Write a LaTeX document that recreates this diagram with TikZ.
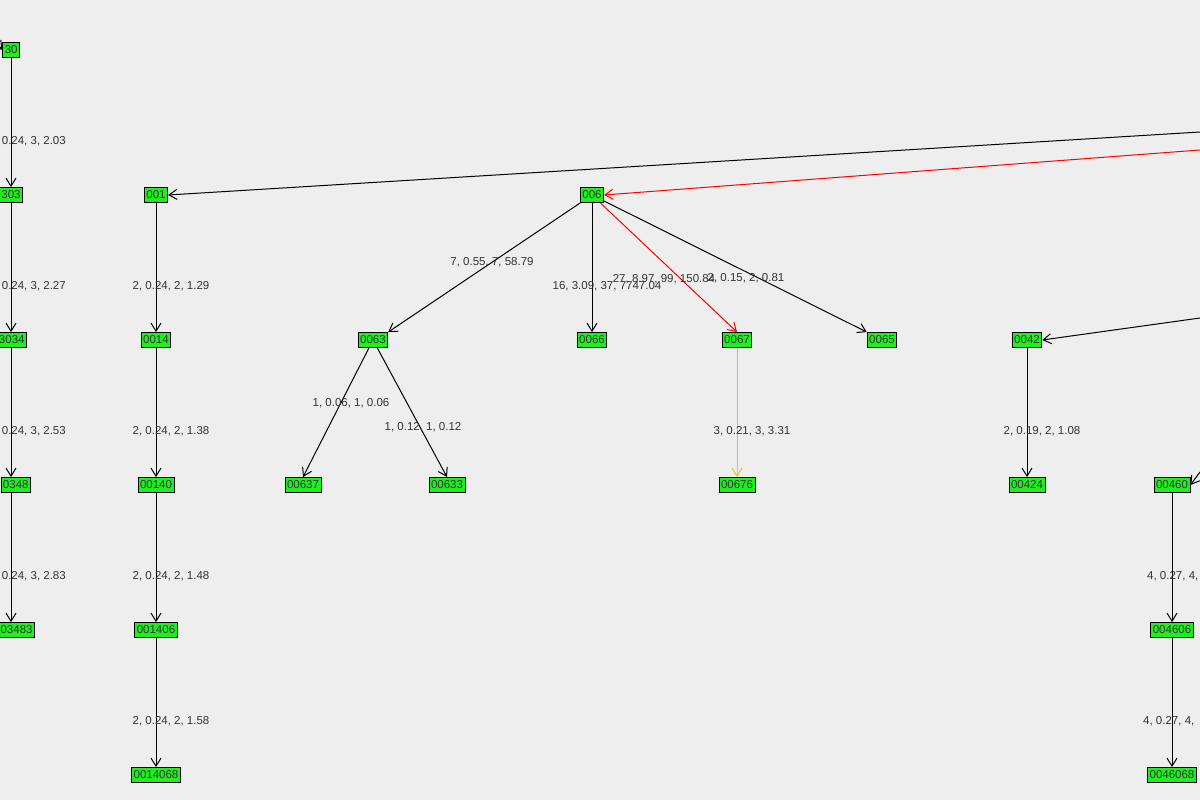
\documentclass[tikz,border=0pt]{standalone}
\usepackage{fontspec}
\setmainfont{Liberation Sans}
\usetikzlibrary{arrows.meta}
\definecolor{bg}{HTML}{EEEEEE}
\definecolor{ng}{HTML}{1FEE1F}
\definecolor{tx}{HTML}{333333}
\definecolor{yl}{HTML}{E8C020}
\begin{document}
\begin{tikzpicture}[x=1pt,y=-1pt,
  nd/.style={draw=black,fill=ng,font=\fontsize{11.5}{12}\selectfont,inner xsep=2pt,inner ysep=0pt,minimum height=15pt,text=black!80,line width=0.9pt},
  lb/.style={font=\fontsize{11.5}{12}\selectfont,text=tx,inner sep=0pt},
  ed/.style={draw=black,line width=1pt,-{Straight Barb[length=8pt,width=10pt]}},
  rd/.style={ed,draw=red},
  yd/.style={ed,draw=yl}]
\fill[bg] (0,0) rectangle (1200,800);
\clip (0,0) rectangle (1200,800);
\useasboundingbox (0,0) rectangle (1200,800);
% column 1 (cut)
\node[nd,anchor=east] (a0) at (20,50) {30};
\node[nd,anchor=east] (a1) at (23,195) {303};
\node[nd,anchor=east] (a2) at (27,340) {3034};
\node[nd,anchor=east] (a3) at (31,485) {0348};
\node[nd,anchor=east] (a4) at (35,630) {03483};
\coordinate (a0in) at (0,47);
\draw[ed] (a0in) -- (a0.west);
\foreach \i/\j in {0/1,1/2,2/3,3/4}{\draw[ed] (a\i.south -| 11,0) -- (a\j.north -| 11,0);}
\node[lb,anchor=east] (la1) at (66,141) {0.24, 3, 2.03};
\node[lb,anchor=east] (la2) at (66,286) {0.24, 3, 2.27};
\node[lb,anchor=east] (la3) at (66,431) {0.24, 3, 2.53};
\node[lb,anchor=east] (la4) at (66,576) {0.24, 3, 2.83};
% column 2
\node[nd] (b0) at (156,195) {001};
\node[nd] (b1) at (156,340) {0014};
\node[nd] (b2) at (156,485) {00140};
\node[nd] (b3) at (156,630) {001406};
\node[nd] (b4) at (156,775) {0014068};
\foreach \i/\j in {0/1,1/2,2/3,3/4}{\draw[ed] (b\i) -- (b\j);}
\node[lb] (lb1) at (171,286) {2, 0.24, 2, 1.29};
\node[lb] (lb2) at (171,431) {2, 0.24, 2, 1.38};
\node[lb] (lb3) at (171,576) {2, 0.24, 2, 1.48};
\node[lb] (lb4) at (171,721) {2, 0.24, 2, 1.58};
\coordinate (b0in) at (1200,132);
\draw[ed] (b0in) -- (b0.east);
% 006 tree
\node[nd] (c0) at (592,195) {006};
\coordinate (c0in) at (1200,150);
\draw[rd] (c0in) -- (c0.east);
\node[nd] (c1) at (373,340) {0063};
\node[nd] (c2) at (592,340) {0066};
\node[nd] (c3) at (737,340) {0067};
\node[nd] (c4) at (882,340) {0065};
\draw[ed] (c0) -- (c1.north east);
\draw[ed] (c0) -- (c2);
\draw[rd] (c0) -- (c3.north);
\draw[ed] (c0) -- (c4.north west);
\node[lb] (lc1) at (492,262) {7, 0.55, 7, 58.79};
\node[lb] (lc2) at (607,286) {16, 3.09, 37, 7747.04};
\node[lb] (lc3) at (664,279) {27, 8.97, 99, 150.84};
\node[lb] (lc4) at (746,278) {2, 0.15, 2, 0.81};
\node[nd] (d1) at (303,485) {00637};
\node[nd] (d2) at (447,485) {00633};
\draw[ed] (c1) -- (d1.north);
\draw[ed] (c1) -- (d2.north);
\node[lb] (ld1) at (351,403) {1, 0.06, 1, 0.06};
\node[lb] (ld2) at (423,427) {1, 0.12, 1, 0.12};
\node[nd] (e1) at (737,485) {00676};
\draw[yd] (c3) -- (e1);
\node[lb] (le1) at (752,431) {3, 0.21, 3, 3.31};
% 0042
\node[nd] (f0) at (1027,340) {0042};
\coordinate (f0in) at (1200,318);
\draw[ed] (f0in) -- (f0.east);
\node[nd] (f1) at (1027,485) {00424};
\draw[ed] (f0) -- (f1);
\node[lb] (lf1) at (1042,431) {2, 0.19, 2, 1.08};
% 00460
\node[nd] (g0) at (1172,485) {00460};
\coordinate (g0in) at (1200,472);
\draw[ed] (g0in) -- (g0.east);
\node[nd] (g1) at (1172,630) {004606};
\node[nd] (g2) at (1172,775) {0046068};
\draw[ed] (g0) -- (g1);
\draw[ed] (g1) -- (g2);
\node[lb,anchor=west] (lg1) at (1147,576) {4, 0.27, 4,};
\node[lb,anchor=west] (lg2) at (1143,721) {4, 0.27, 4,};
\end{tikzpicture}
\end{document}
